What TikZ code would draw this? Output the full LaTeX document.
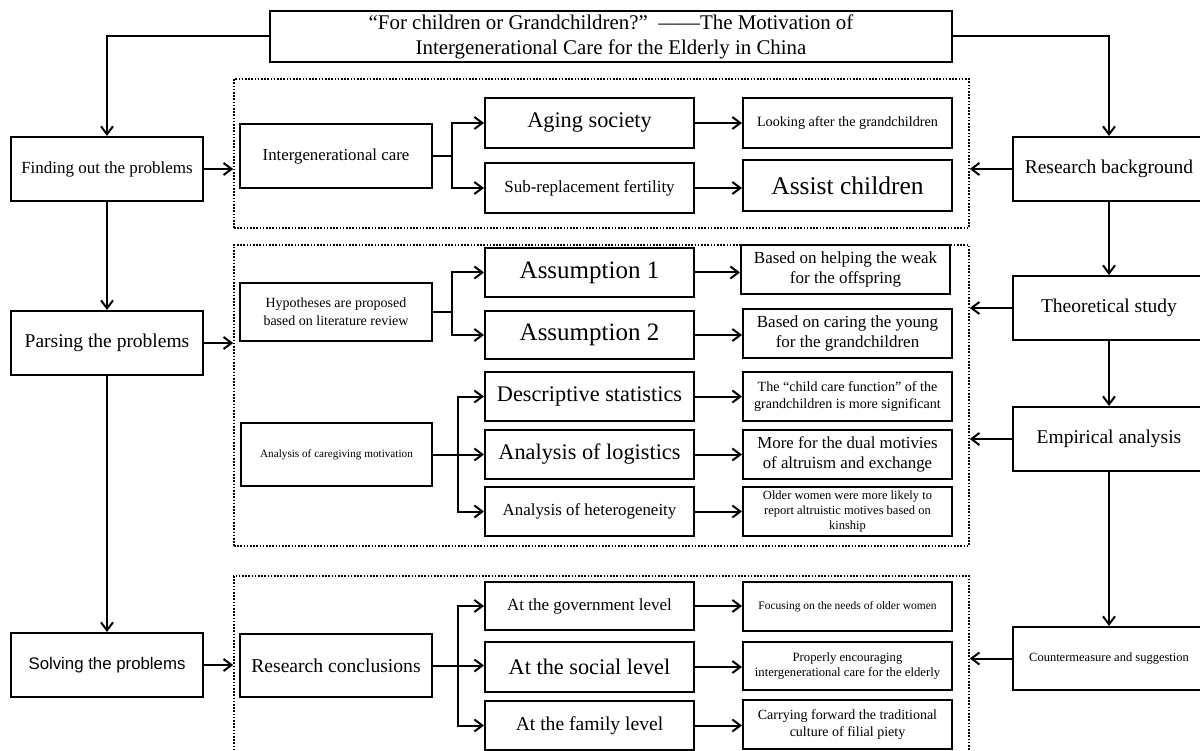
\documentclass[tikz,border=0pt]{standalone}
\usepackage{fontspec}
\setmainfont{Liberation Serif}
\newfontfamily\sansf{Liberation Sans}
\usetikzlibrary{arrows.meta}
\newcommand{\fs}[2]{\fontsize{#1}{#2}\selectfont}
\tikzset{
 box/.style={draw, line width=2pt, inner sep=0pt, align=center, fill=white},
 dotbox/.style={draw, line width=1.6pt, dash pattern=on 1.6pt off 1.6pt, inner sep=0pt},
 arr/.style={line width=2pt, -{Straight Barb[length=8pt,width=12pt]}},
 ln/.style={line width=2pt},
}
\newcommand{\bx}[7]{\node[box,font={#6},minimum width={(#4)-(#2)},minimum height={(#5)-(#3)}] (#1) at ({((#2)+(#4))/2},{((#3)+(#5))/2}) {#7};}
\begin{document}
\begin{tikzpicture}[x=1pt,y=-1pt]
\useasboundingbox (0,0) rectangle (1200,751);
\clip (0,0) rectangle (1200,751);
\fill[white] (0,0) rectangle (1200,751);
% dotted groups
\node[dotbox,minimum width=735,minimum height=149] (d1) at (601.5,153.5) {};
\node[dotbox,minimum width=735,minimum height=301] (d2) at (601.5,395.5) {};
\node[dotbox,minimum width=735,minimum height=194] (d3) at (601.5,673) {};
% title
\bx{title}{270}{11}{952}{62}{\fs{20.9}{25}}{“For children or Grandchildren?”\ \ ——The Motivation of\\Intergenerational Care for the Elderly in China}
% left column
\bx{find}{11}{137}{203}{201}{\fs{17}{20}}{Finding out the problems}
\bx{parse}{11}{311}{203}{375}{\fs{19.5}{23}}{Parsing the problems}
\bx{solve}{11}{633}{203}{697}{\sansf\fs{16.8}{20}}{Solving the problems}
% right column
\bx{rb}{1013}{137}{1205}{201}{\fs{19.5}{23}}{Research background}
\bx{ts}{1013}{276}{1205}{340}{\fs{19.5}{23}}{Theoretical study}
\bx{ea}{1013}{407}{1205}{471}{\fs{19.5}{23}}{Empirical analysis}
\bx{cs}{1013}{627}{1205}{690}{\fs{12.5}{15}}{Countermeasure and suggestion}
% group 1
\bx{ic}{240}{124}{432}{188}{\fs{16.8}{20}}{Intergenerational care}
\bx{as}{485}{98}{694}{148}{\fs{22.3}{26}}{Aging society}
\bx{srf}{485}{163}{694}{213}{\fs{17}{20}}{Sub-replacement fertility}
\bx{lag}{743}{98}{952}{148}{\fs{14.2}{17}}{Looking after the grandchildren}
\bx{ac}{743}{160}{952}{211}{\fs{25.5}{30}}{Assist children}
% group 2
\bx{hyp}{240}{283}{432}{341}{\fs{14}{18}}{Hypotheses are proposed\\based on literature review}
\bx{a1}{485}{248}{694}{297}{\fs{25}{29}}{Assumption 1}
\bx{a2}{485}{311}{694}{359}{\fs{25}{29}}{Assumption 2}
\bx{bh}{741}{245}{950}{294}{\fs{17}{20.5}}{Based on helping the weak\\for the offspring}
\bx{bc}{743}{309}{952}{358}{\fs{17}{20.5}}{Based on caring the young\\for the grandchildren}
\bx{acm}{241}{423}{432}{486}{\fs{11.2}{13}}{Analysis of caregiving motivation}
\bx{dst}{485}{372}{694}{421}{\fs{22.3}{26}}{Descriptive statistics}
\bx{alg}{485}{430}{694}{479}{\fs{22.3}{26}}{Analysis of logistics}
\bx{ahet}{485}{487}{694}{536}{\fs{16.9}{20}}{Analysis of heterogeneity}
\bx{ccf}{743}{372}{952}{421}{\fs{14.1}{17}}{The “child care function” of the\\grandchildren is more significant}
\bx{dual}{743}{430}{952}{479}{\fs{16.8}{20.5}}{More for the dual motivies\\of altruism and exchange}
\bx{old}{743}{487}{952}{536}{\fs{12.5}{15}}{Older women were more likely to\\report altruistic motives based on\\kinship}
% group 3
\bx{rc}{240}{634}{432}{697}{\fs{19.6}{23}}{Research conclusions}
\bx{gov}{485}{582}{694}{630}{\fs{17}{20}}{At the government level}
\bx{soc}{485}{642}{694}{692}{\fs{22.3}{26}}{At the social level}
\bx{fam}{485}{701}{694}{750}{\fs{19.6}{23}}{At the family level}
\bx{foc}{743}{582}{952}{631}{\fs{11.5}{14}}{Focusing on the needs of older women}
\bx{prop}{743}{642}{952}{690}{\fs{12.7}{15.5}}{Properly encouraging\\intergenerational care for the elderly}
\bx{carry}{743}{700}{952}{749}{\fs{14}{17}}{Carrying forward the traditional\\culture of filial piety}
% branch coordinates
\coordinate (b1) at (452,0);
\coordinate (b3) at (458,0);
% title connectors
\draw[arr] (title.west) -| (find.north);
\draw[arr] (title.east) -| (rb.north);
% vertical flows
\draw[arr] (find.south) -- (parse.north);
\draw[arr] (parse.south) -- (solve.north);
\draw[arr] (rb.south) -- (ts.north);
\draw[arr] (ts.south) -- (ea.north);
\draw[arr] (ea.south) -- (cs.north);
% into groups
\draw[arr] (find.east) -- (find.east -| d1.west);
\draw[arr] (parse.east) -- (parse.east -| d2.west);
\draw[arr] (solve.east) -- (solve.east -| d3.west);
\draw[arr] (rb.west) -- (rb.west -| d1.east);
\draw[arr] (ts.west) -- (ts.west -| d2.east);
\draw[arr] (ea.west) -- (ea.west -| d2.east);
\draw[arr] (cs.west) -- (cs.west -| d3.east);
% branches
\draw[ln] (ic.east) -- (ic.east -| b1);
\draw[arr] (ic.east -| b1) |- (as.west);
\draw[arr] (ic.east -| b1) |- (srf.west);
\draw[ln] (hyp.east) -- (hyp.east -| b1);
\draw[arr] (hyp.east -| b1) |- (a1.west);
\draw[arr] (hyp.east -| b1) |- (a2.west);
\draw[arr] (acm.east) -- (acm.east -| alg.west);
\draw[arr] (acm.east -| b3) |- (dst.west);
\draw[arr] (acm.east -| b3) |- (ahet.west);
\draw[arr] (rc.east) -- (rc.east -| soc.west);
\draw[arr] (rc.east -| b3) |- (gov.west);
\draw[arr] (rc.east -| b3) |- (fam.west);
% middle to right
\draw[arr] (as.east) -- (as.east -| lag.west);
\draw[arr] (srf.east) -- (srf.east -| ac.west);
\draw[arr] (a1.east) -- (a1.east -| bh.west);
\draw[arr] (a2.east) -- (a2.east -| bc.west);
\draw[arr] (dst.east) -- (dst.east -| ccf.west);
\draw[arr] (alg.east) -- (alg.east -| dual.west);
\draw[arr] (ahet.east) -- (ahet.east -| old.west);
\draw[arr] (gov.east) -- (gov.east -| foc.west);
\draw[arr] (soc.east) -- (soc.east -| prop.west);
\draw[arr] (fam.east) -- (fam.east -| carry.west);
\end{tikzpicture}
\end{document}
